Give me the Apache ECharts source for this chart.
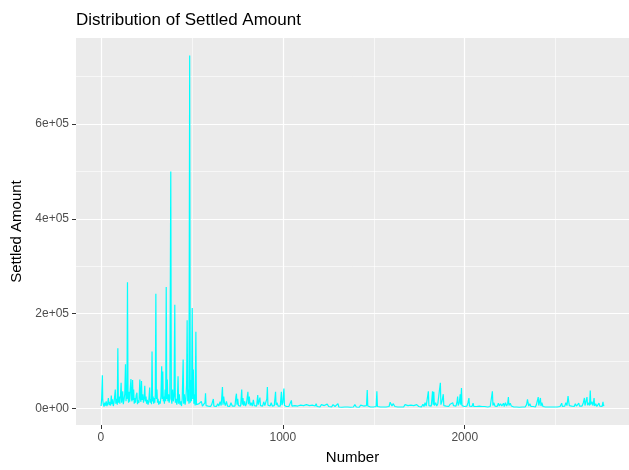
<!DOCTYPE html>
<html>
<head>
<meta charset="utf-8">
<script src="https://cdn.jsdelivr.net/npm/echarts@6/dist/echarts.min.js"></script>
<style>
html,body{margin:0;padding:0;background:#fff;}
#chart{width:629px;height:470px;}
</style>
</head>
<body>
<div id="chart"></div>
<script>
// ---- data (Number -> Settled Amount) ----
const numbers = [
1,4,8,10,13,17,21,25,29,33,37,41,45,49,53,57,60,64,68,72,76,79,82,86,90,93,96,100,104,108,111,114,117,120,123,127,131,135,138,141,143,146,149,152,155,158,161,165,168,171,174,177,180,183,186,190,194,198,201,205,209,214,217,220,223,226,230,234,238,241,244,248,251,255,259,263,268,271,275,278,281,284,287,290,293,296,299,302,305,308,311,314,318,322,326,330,334,337,340,343,346,349,353,356,359,362,365,368,372,375,379,384,387,390,394,398,402,406,409,413,417,420,424,427,431,435,439,443,447,452,455,459,463,467,471,474,477,480,484,488,491,494,498,502,505,508,511,514,518,522,525,529,
533,540,546,552,558,563,568,572,575,578,584,590,596,603,610,618,621,628,635,642,648,655,661,668,671,675,679,684,690,696,702,708,715,722,730,737,742,745,748,752,756,762,768,774,777,781,785,790,795,800,805,808,811,816,820,826,832,838,843,850,856,862,865,870,874,877,883,889,895,901,907,912,915,918,924,930,936,942,948,953,960,963,968,974,980,986,992,995,1000,1006,1009,1015,1020,1027,1033,1040,1047,1050,
1058,1066,1074,1082,1090,1098,1106,1114,1122,1130,1138,1146,1154,1162,1170,1178,1183,1188,1196,1204,1212,1220,1228,1236,1244,1252,1260,1268,1276,1282,1287,1295,1303,1308,1316,1324,1332,1340,1348,1356,1364,1372,1380,1388,1396,1404,1412,1420,1428,1436,1444,1452,1460,1464,1467,1475,1482,1490,1498,1506,1513,1517,1520,1528,1536,1544,1552,1560,1568,1576,1584,1590,1596,1600,1606,1612,1616,1624,1632,1640,1648,1656,1664,1672,1680,1688,1696,1704,1712,1720,1728,1736,1743,1747,1755,1762,1770,1776,1782,1788,1795,1800,1803,1810,1816,1823,1826,1830,1833,1840,1846,1852,1858,1866,1869,1875,1882,1885,1892,1898,1905,1912,1920,1927,1934,1938,1945,1952,1958,1961,1964,1970,1975,1978,1982,1985,1992,1998,
2005,2012,2018,2023,2026,2033,2040,2046,2050,2058,2065,2072,2080,2088,2095,2103,2110,2118,2126,2134,2140,2147,2152,2155,2160,2166,2172,2178,2185,2190,2197,2204,2210,2213,2217,2224,2230,2236,2240,2243,2250,2256,2263,2270,2278,2285,2293,2300,2308,2316,2324,2332,2340,2345,2348,2352,2358,2364,2370,2376,2382,2388,2394,2400,2404,2407,2412,2416,2419,2424,2430,2437,2444,2452,2460,2468,2476,2484,2492,2500,2508,2516,2524,2530,2533,2537,2544,2550,2556,2562,2568,2571,2575,2582,2588,2595,2602,2608,2614,2621,2627,2631,2638,2645,2652,2658,2661,2667,2672,2675,2682,2686,2690,2693,2699,2705,2711,2714,2720,2726,2732,2738,2742,2749,2755,2760,2763,2765
];
const amounts = [
5000,20000,70000,18000,9000,4000,12000,6000,15000,5000,10000,22000,7000,14000,6000,27000,9000,19000,5000,12000,8000,40000,10000,20000,8000,127000,12000,25000,10000,30000,54000,12000,22000,36000,9000,18000,30000,93000,15000,45000,20000,266000,25000,12000,35000,14000,40000,62000,20000,15000,60000,18000,40000,10000,22000,12000,28000,33000,9000,17000,12000,61000,20000,14000,58000,18000,30000,12000,25000,48000,15000,25000,10000,18000,8000,15000,44000,12000,20000,9000,120000,15000,25000,10000,22000,12000,30000,242000,20000,40000,12000,20000,8000,15000,10000,25000,89000,20000,78000,15000,25000,10000,40000,15000,256000,20000,61000,15000,30000,12000,22000,500000,20000,10000,40000,15000,25000,219000,12000,20000,8000,15000,68000,10000,30000,8000,15000,5000,20000,103000,10000,30000,8000,20000,50000,186000,15000,40000,10000,745000,12000,60000,15000,212000,20000,82000,10000,30000,6000,162000,8000,12000,
4000,10000,6000,15000,5000,8000,4000,12000,32000,6000,10000,5000,8000,4000,9000,20000,5000,8000,4000,10000,5000,14000,6000,45000,8000,25000,12000,6000,15000,5000,9000,4000,12000,5000,8000,5000,25000,31000,8000,20000,6000,10000,5000,40000,8000,22000,6000,15000,5000,10000,6000,35000,9000,25000,6000,12000,5000,18000,6000,10000,5000,28000,8000,12000,23000,6000,10000,5000,14000,6000,8000,20000,45000,7000,10000,5000,12000,5000,8000,6000,35000,7000,12000,5000,9000,5000,35000,7000,12000,42000,6000,8000,4000,7000,4000,6000,17000,5000,
3000,6000,2500,5000,3000,7000,3500,6000,3000,8000,4000,6000,3000,7000,4000,5000,10000,4000,6000,3000,8000,4000,6000,3000,9000,4000,7000,3000,8000,11000,4000,7000,10000,3000,6000,2500,5000,3000,7000,3000,6000,2500,5000,3000,8000,3000,6000,2500,7000,3000,5000,3000,6000,39000,5000,8000,3000,6000,3000,7000,4000,36000,4000,7000,3000,6000,3000,5000,3000,6000,4000,13000,15000,5000,10000,12000,4000,6000,3000,7000,3000,5000,3000,8000,4000,6000,3000,7000,4000,6000,3000,8000,11000,4000,7000,3000,9000,4000,12000,5000,9000,36000,6000,10000,5000,36000,8000,35000,6000,12000,5000,10000,6000,54000,8000,15000,30000,6000,10000,5000,8000,4000,9000,5000,12000,6000,9000,5000,15000,25000,6000,12000,30000,8000,43000,6000,10000,4000,
8000,5000,12000,22000,5000,8000,4000,11000,4000,7000,4000,8000,5000,7000,4000,6000,4000,7000,3000,6000,4000,8000,36000,6000,12000,5000,9000,4000,11000,5000,10000,5000,8000,11000,4000,12000,5000,10000,24000,6000,11000,5000,8000,3000,6000,3000,5000,2500,5000,3000,6000,3000,8000,19000,12000,5000,10000,4000,8000,4000,7000,3000,8000,5000,24000,6000,10000,22000,5000,12000,4000,7000,3000,5000,3000,6000,3000,5000,3000,6000,3000,5000,4000,8000,11000,4000,8000,5000,12000,6000,26000,16000,6000,10000,5000,8000,4000,10000,5000,8000,11000,5000,9000,5000,12000,22000,6000,10000,24000,7000,12000,6000,38000,8000,14000,6000,22000,5000,10000,4000,8000,11000,5000,9000,4000,14000,5000,8000
];

const xMajor = [0, 1000, 2000];
const xMajorLabels = ["0", "1000", "2000"];
const xMinor = [500, 1500, 2500];
const yMajor = [0, 200000, 400000, 600000];
const yMajorLabels = ["0e+00", "2e+05", "4e+05", "6e+05"];
const yMinor = [100000, 300000, 500000, 700000];

const titleText = "Distribution of Settled Amount";
const xTitle = "Number";
const yTitle = "Settled Amount";

const xMin = -137, xMax = 2903;
const yMin = -35000, yMax = 781700;

const seriesData = numbers.map((n, i) => [n, amounts[i]]);

const FONT = "Liberation Sans, Arial, sans-serif";
const chart = echarts.init(document.getElementById('chart'), null, {renderer: 'canvas'});

function labelFor(values, labels) {
  return function (v) {
    const i = values.indexOf(v);
    return i >= 0 ? labels[i] : '';
  };
}

chart.setOption({
  animation: false,
  backgroundColor: '#ffffff',
  title: {
    text: titleText,
    left: 71, top: 7,
    textStyle: {fontFamily: FONT, fontSize: 17, fontWeight: 'normal', color: '#000000'}
  },
  grid: {
    left: 76, top: 38, width: 563, height: 391,
    show: true, backgroundColor: '#EBEBEB', borderWidth: 0, containLabel: false
  },
  xAxis: [
    {
      type: 'value', min: xMin, max: xMax, position: 'bottom',
      axisLine: {show: false, onZero: false},
      axisTick: {show: true, customValues: xMajor, length: 4, lineStyle: {color: '#333333', width: 1}},
      axisLabel: {customValues: xMajor, formatter: labelFor(xMajor, xMajorLabels), color: '#4D4D4D', fontSize: 12, fontFamily: FONT, margin: 7},
      splitLine: {show: true, lineStyle: {color: '#FFFFFF', width: 1.2}},
      name: xTitle, nameLocation: 'middle', nameGap: 25,
      nameTextStyle: {fontFamily: FONT, fontSize: 15, color: '#000000'}
    },
    {
      type: 'value', min: xMin, max: xMax, position: 'top',
      axisLine: {show: false, onZero: false},
      axisTick: {show: false, customValues: xMinor},
      axisLabel: {show: false, customValues: xMinor},
      splitLine: {show: true, lineStyle: {color: '#FFFFFF', width: 0.6}}
    }
  ],
  yAxis: [
    {
      type: 'value', min: yMin, max: yMax, position: 'left',
      axisLine: {show: false, onZero: false},
      axisTick: {show: true, customValues: yMajor, length: 4, lineStyle: {color: '#333333', width: 1}},
      axisLabel: {customValues: yMajor, formatter: labelFor(yMajor, yMajorLabels), color: '#4D4D4D', fontSize: 12, fontFamily: FONT, margin: 7},
      splitLine: {show: true, lineStyle: {color: '#FFFFFF', width: 1.2}},
      name: yTitle, nameLocation: 'middle', nameGap: 50, nameRotate: 90,
      nameTextStyle: {fontFamily: FONT, fontSize: 15, color: '#000000'}
    },
    {
      type: 'value', min: yMin, max: yMax, position: 'right',
      axisLine: {show: false, onZero: false},
      axisTick: {show: false, customValues: yMinor},
      axisLabel: {show: false, customValues: yMinor},
      splitLine: {show: true, lineStyle: {color: '#FFFFFF', width: 0.6}}
    }
  ],
  series: [{
    type: 'line',
    xAxisIndex: 0, yAxisIndex: 0,
    data: seriesData,
    showSymbol: false,
    symbol: 'none',
    sampling: null,
    lineStyle: {color: '#00FFFF', width: 1.2},
    itemStyle: {color: '#00FFFF'},
    silent: true
  }]
});
</script>
</body>
</html>
